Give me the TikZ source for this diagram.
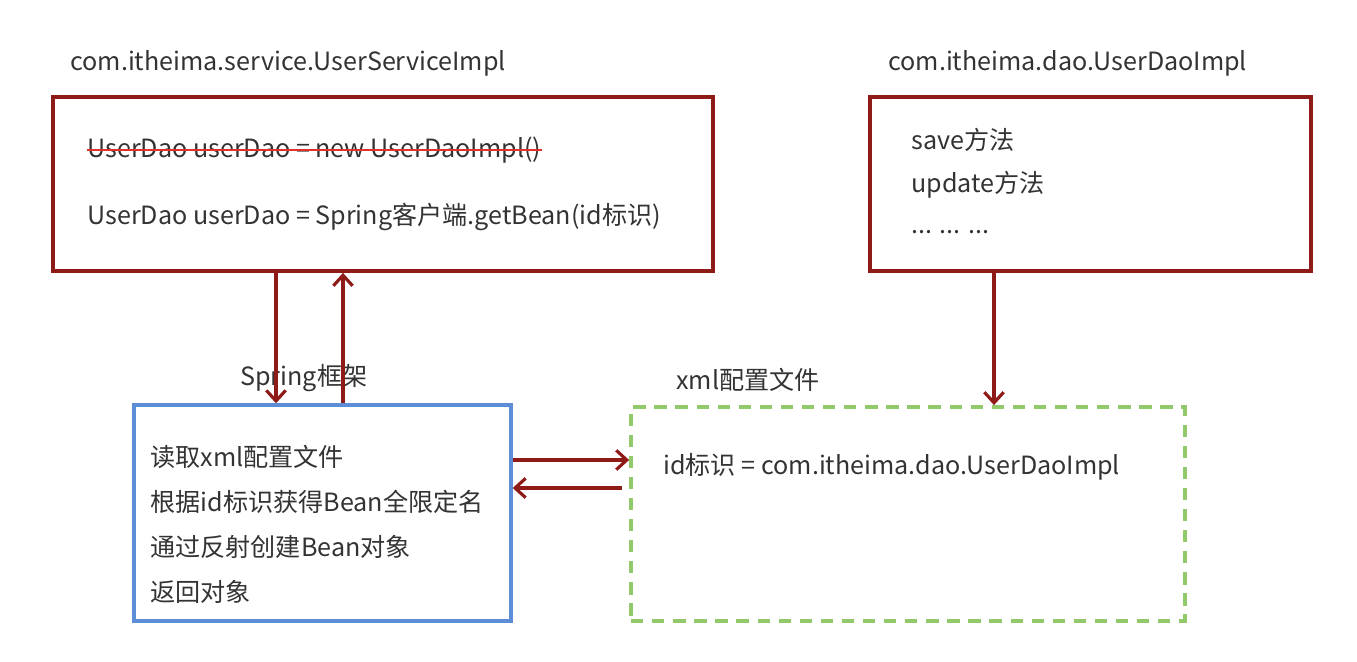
\documentclass[tikz,border=0pt]{standalone}
\usepackage{fontspec}
\setmainfont{Noto Sans CJK SC}
\usepackage{xcolor}
\usetikzlibrary{arrows.meta}
\definecolor{boxred}{HTML}{8E1B17}
\definecolor{springblue}{HTML}{5B8ED6}
\definecolor{xmlgreen}{HTML}{92C96A}
\definecolor{txtgray}{HTML}{333333}
\definecolor{strikered}{HTML}{E0312B}

\begin{document}
\begin{tikzpicture}[
  x=0.02cm, y=-0.02cm,
  every node/.style={font=\fontsize{14.3}{17}\selectfont, text=txtgray, inner sep=0pt},
  classbox/.style={draw=boxred, line width=2.2pt},
  springbox/.style={draw=springblue, line width=2pt},
  xmlbox/.style={draw=xmlgreen, line width=2.2pt, dash pattern=on 7pt off 5pt},
  txtline/.style={anchor=west},
  flow/.style={draw=boxred, line width=1.8pt, -{Straight Barb[length=6pt,width=11pt]}},
]
\useasboundingbox (0,0) rectangle (1357,662);

%%% Top row: the two classes %%%
\node[txtline] (svctitle) at (70,63) {com.itheima.service.UserServiceImpl};
\node[classbox, minimum width=13.2cm, minimum height=3.48cm] (svc) at (383,184) {};
\node[txtline] (oldline) at (87,150) {UserDao userDao = new UserDaoImpl()};
\draw[strikered, line width=1.4pt] (oldline.west) -- (oldline.east);
\node[txtline] (newline) at (87,217) {UserDao userDao = Spring客户端.getBean(id标识)};

\node[txtline] (daotitle) at (888,63) {com.itheima.dao.UserDaoImpl};
\node[classbox, minimum width=8.82cm, minimum height=3.48cm] (dao) at (1090.5,184) {};
\node[txtline] (save) at (911,140) {save方法};
\node[txtline] (update) at (911,185) {update方法};
\node[txtline] (more) at (911,232) {... ... ...};

%%% Bottom row: framework and config file %%%
\node[txtline] (springtitle) at (240,378) {Spring框架};
\node[springbox, minimum width=7.54cm, minimum height=4.32cm] (spring) at (322.5,513) {};
\foreach \t [count=\i] in {读取xml配置文件, 根据id标识获得Bean全限定名, 通过反射创建Bean对象, 返回对象} {
  \node[txtline] (step\i) at (150,412+45*\i) {\t};
}

\node[txtline] (xmltitle) at (676,380) {xml配置文件};
\node[xmlbox, minimum width=11.08cm, minimum height=4.28cm] (xml) at (908,514) {};
\node[txtline] (idline) at (663,467) {id标识 = com.itheima.dao.UserDaoImpl};

% Connectors
\draw[flow] (svc.south -| 276,0) -- (spring.north -| 276,0);
\draw[flow] (spring.north -| 343,0) -- (svc.south -| 343,0);
\draw[flow] (dao.south -| 994,0) -- (xml.north -| 994,0);
\draw[flow] (spring.east |- 0,460) -- (xml.west |- 0,460);
\draw[flow] ([xshift=-4pt]xml.west |- 0,488) -- (spring.east |- 0,488);
\end{tikzpicture}
\end{document}
